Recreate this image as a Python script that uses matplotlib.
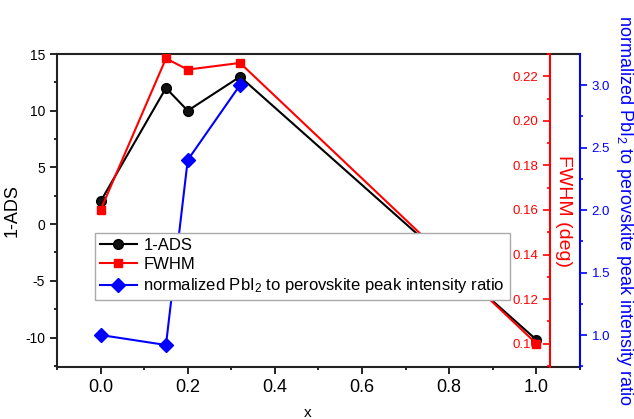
import numpy as np
import matplotlib
matplotlib.use("Agg")
import matplotlib.pyplot as plt
from matplotlib.ticker import MultipleLocator

plt.rcParams['font.family'] = ['Liberation Sans', 'DejaVu Sans']
plt.rcParams['mathtext.default'] = 'regular'
plt.rcParams['axes.unicode_minus'] = False

# data
x_ads = [0.0, 0.15, 0.2, 0.32, 1.0]
ads = [2.0, 12.0, 10.0, 13.0, -10.2]

x_fwhm = [0.0, 0.15, 0.2, 0.32, 1.0]
fwhm = [0.160, 0.228, 0.223, 0.226, 0.100]

x_ratio = [0.0, 0.15, 0.2, 0.32]
ratio = [1.0, 0.92, 2.40, 3.0]

fig = plt.figure(figsize=(6.34, 4.19), dpi=100)
ax = fig.add_axes([0.0899, 0.1241, 0.8249, 0.7470])
ax2 = ax.twinx()
ax3 = ax.twinx()

# 1-ADS, left axis
l1, = ax.plot(x_ads, ads, color='black', lw=1.5, marker='o', ms=7,
              markerfacecolor='#111111', markeredgecolor='black', label='1-ADS')
ax.set_xlim(-0.1, 1.1)
ax.set_ylim(-12.6, 15)
ax.xaxis.set_major_locator(MultipleLocator(0.2))
ax.xaxis.set_minor_locator(MultipleLocator(0.1))
ax.yaxis.set_major_locator(MultipleLocator(5))
ax.yaxis.set_minor_locator(MultipleLocator(2.5))
ax.tick_params(axis='x', which='major', labelsize=13, length=5, width=1.2)
ax.tick_params(axis='y', which='major', labelsize=10, length=5, width=1.2)
ax.tick_params(which='minor', length=2.5, width=1.2)
ax.set_xticks(ax.get_xticks())
ax.set_xticklabels(['%.1f' % v for v in ax.get_xticks()])
ax.set_xlim(-0.1, 1.1)
ax.set_ylabel('1-ADS', fontsize=13)
ax.yaxis.set_label_coords(-0.07, 0.5)
ax.set_xlabel('x', fontsize=11)
ax.xaxis.set_label_coords(0.48, -0.125)
ax.spines['right'].set_visible(False)
for s in ['left', 'bottom', 'top']:
    ax.spines[s].set_linewidth(1.5)
    ax.spines[s].set_color('#222222')

# FWHM, red axis inside the frame
l2, = ax2.plot(x_fwhm, fwhm, color='red', lw=1.5, marker='s', ms=6,
               markerfacecolor='red', markeredgecolor='red', label='FWHM')
ax2.yaxis.set_ticks_position('left')
ax2.spines['left'].set_position(('axes', 0.9426))
ax2.spines['left'].set_color('red')
ax2.spines['left'].set_linewidth(1.5)
for s in ['right', 'top', 'bottom']:
    ax2.spines[s].set_visible(False)
ax2.yaxis.set_major_locator(MultipleLocator(0.02))
ax2.yaxis.set_minor_locator(MultipleLocator(0.01))
ax2.tick_params(axis='y', which='both', colors='red', labelsize=9.5, width=1.2)
ax2.tick_params(axis='y', which='major', length=5)
ax2.tick_params(axis='y', which='minor', length=2.5)
ax2.set_ylim(0.0895, 0.230)
ax2.set_ylabel('FWHM (deg)', color='red', fontsize=14, rotation=270, va='center')
ax2.yaxis.set_label_coords(0.968, 0.5)

# normalized ratio, blue axis at the right edge
l3, = ax3.plot(x_ratio, ratio, color='blue', lw=1.5, marker='D', ms=7,
               markerfacecolor='blue', markeredgecolor='blue',
               label='normalized PbI$_2$ to perovskite peak intensity ratio')
ax3.set_ylim(0.744, 3.248)
ax3.yaxis.set_major_locator(MultipleLocator(0.5))
ax3.yaxis.set_minor_locator(MultipleLocator(0.25))
ax3.spines['right'].set_color('blue')
ax3.spines['right'].set_linewidth(1.5)
for s in ['left', 'top', 'bottom']:
    ax3.spines[s].set_visible(False)
ax3.tick_params(axis='y', which='both', colors='blue', labelsize=9.5, width=1.2)
ax3.tick_params(axis='y', which='major', length=5)
ax3.tick_params(axis='y', which='minor', length=2.5)
ax3.set_ylabel('normalized PbI$_2$ to perovskite peak intensity ratio',
               color='blue', fontsize=13, rotation=270, va='center')
ax3.yaxis.set_label_coords(1.086, 0.5)

leg = ax3.legend(handles=[l1, l2, l3], loc='upper left',
                 bbox_to_anchor=(0.0727, 0.428), borderaxespad=0,
                 fontsize=12, fancybox=False, framealpha=1,
                 edgecolor='#aaaaaa', handlelength=2.2, borderpad=0.3,
                 labelspacing=0.25, handletextpad=0.4)
leg.get_frame().set_linewidth(1.0)

fig.savefig('out.png', dpi=100)
